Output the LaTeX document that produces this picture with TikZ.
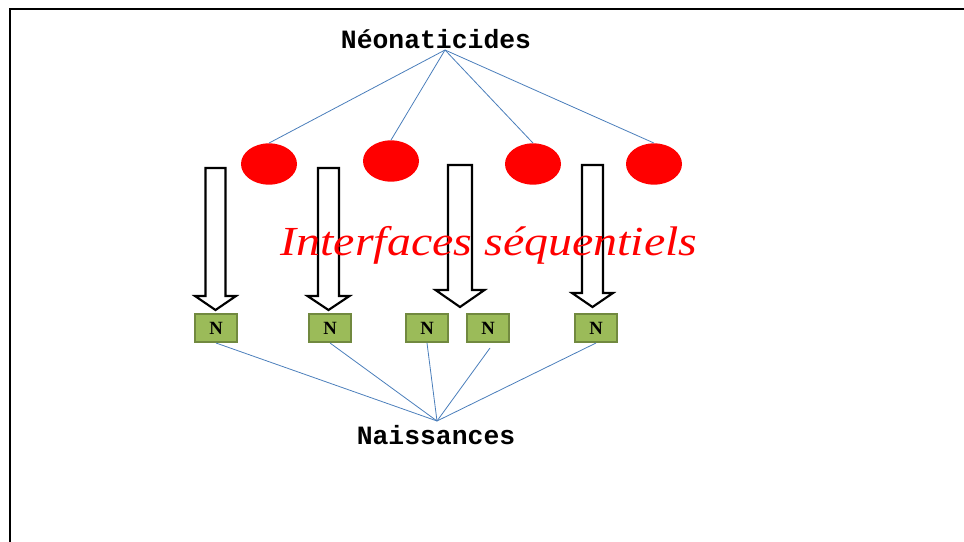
\documentclass[tikz,border=0pt]{standalone}
\usepackage{xcolor}
\usepackage{fontspec}
\setmainfont{Liberation Serif}
\setmonofont{Liberation Mono}
\usepackage{tikz}
\usetikzlibrary{shapes, positioning, calc}
\definecolor{linkblue}{RGB}{74,126,187}
\definecolor{boxgreen}{RGB}{155,187,89}
\definecolor{boxedge}{RGB}{113,137,63}

\begin{document}
\begin{tikzpicture}[x=0.75pt, y=-0.75pt]
		\tikzstyle{mother}=[draw=none, ellipse, fill=red, minimum width=42pt, minimum height=31pt, inner sep=0pt]
		\tikzstyle{birth}=[draw=boxedge, line width=1.5pt, fill=boxgreen, minimum width=31pt, minimum height=21pt, inner sep=0pt, font=\fontsize{14}{14}\selectfont\bfseries, text=black]
		\tikzstyle{title}=[font=\fontsize{19.8}{20}\selectfont\ttfamily\bfseries, text=black]
		\tikzstyle{link}=[draw=linkblue, line width=0.6pt]
		\tikzstyle{blockarrow}=[draw=black, line width=1.6pt, fill=white, line join=miter]
		
		\useasboundingbox (0,0) rectangle (964,542);
		%%	frame
		\draw[line width=1.6pt] (10,542) -- (10,9) -- (964,9);
		
		\node [title] (neo) at (436,39) {Néonaticides};
		\coordinate (top) at (445,50);
		
		\node [mother] (M1) at (269,164) {};
		\node [mother] (M2) at (391,161) {};
		\node [mother] (M3) at (533,164) {};
		\node [mother] (M4) at (654,164) {};
		\foreach \m in {M1,M2,M3,M4}
		\draw [link] (top) -- (\m.north);
		
		%%	cx / half shaft / top / head start / half head / tip
		\foreach \cx/\hs/\ty/\hy/\hw/\tip in {215.5/10/168/296/20.5/310, 328.5/10.5/168/296/21/310, 460/12/165/290/24.5/307, 592.5/10.5/165/293/20.5/307}
		\draw [blockarrow] (\cx-\hs,\ty) -- (\cx+\hs,\ty) -- (\cx+\hs,\hy) -- (\cx+\hw,\hy) -- (\cx,\tip) -- (\cx-\hw,\hy) -- (\cx-\hs,\hy) -- cycle;
		
		\node [text=red, font=\fontsize{31}{31}\selectfont\itshape, xscale=1.16] (seq) at (489,245) {Interfaces séquentiels};
		
		\node [birth] (N1) at (216,328) {N};
		\node [birth] (N2) at (330,328) {N};
		\node [birth] (N3) at (427,328) {N};
		\node [birth] (N4) at (488,328) {N};
		\node [birth] (N5) at (596,328) {N};
		
		\coordinate (bottom) at (437,421);
		\foreach \n in {N1,N2,N3,N5}
		\draw [link] (\n.south) -- (bottom);
		\draw [link] ($(N4.south)+(2,5)$) -- (bottom);
		
		\node [title] (nai) at (436,435) {Naissances};
		\end{tikzpicture}
\end{document}
